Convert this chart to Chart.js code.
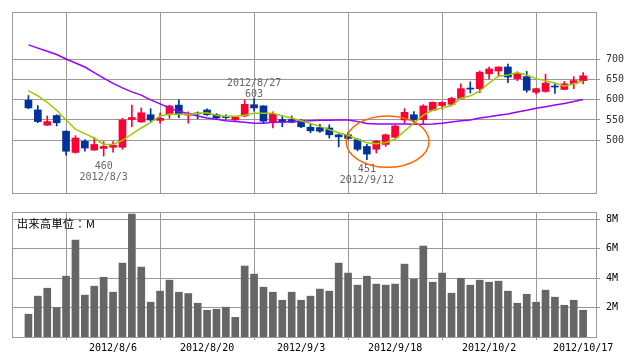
<!DOCTYPE html>
<html lang="ja">
<head>
<meta charset="utf-8">
<title>株価チャート</title>
<script src="https://cdn.jsdelivr.net/npm/chart.js@4.4.1/dist/chart.umd.min.js"></script>
<style>
  html, body { margin: 0; padding: 0; background: #fff; }
  #wrap { position: relative; width: 638px; height: 362px; overflow: hidden; }
  #priceChart { position: absolute; left: 0; top: 0; }
  #volChart { position: absolute; left: 0; top: 200px; }
  #volLabel { position: absolute; left: 17px; top: 215px; font: 11px "Noto Sans CJK JP"; letter-spacing: 0.5px; color: #000; }
</style>
</head>
<body>
<div id="wrap">
  <canvas id="priceChart" width="638" height="205"></canvas>
  <canvas id="volChart" width="638" height="162"></canvas>
  <div id="volLabel">出来高単位：M</div>
</div>
<script>
// 日付 (営業日)
const dates = [
  '2012/7/24','2012/7/25','2012/7/26','2012/7/27','2012/7/30','2012/7/31',
  '2012/8/1','2012/8/2','2012/8/3','2012/8/6','2012/8/7','2012/8/8','2012/8/9','2012/8/10',
  '2012/8/13','2012/8/14','2012/8/15','2012/8/16','2012/8/17','2012/8/20','2012/8/21',
  '2012/8/22','2012/8/23','2012/8/24','2012/8/27','2012/8/28','2012/8/29','2012/8/30','2012/8/31',
  '2012/9/3','2012/9/4','2012/9/5','2012/9/6','2012/9/7','2012/9/10','2012/9/11','2012/9/12',
  '2012/9/13','2012/9/14','2012/9/18','2012/9/19','2012/9/20','2012/9/21','2012/9/24','2012/9/25',
  '2012/9/26','2012/9/27','2012/9/28','2012/10/1','2012/10/2','2012/10/3','2012/10/4','2012/10/5',
  '2012/10/9','2012/10/10','2012/10/11','2012/10/12','2012/10/15','2012/10/16','2012/10/17'
];

const opens = [
  599, 575, 537, 561, 522, 469, 497, 475, 479, 482,
  482, 551, 545, 563, 549, 563, 587, 562, 566, 575,
  563, 558, 550, 560, 588, 585, 544, 551, 551, 549,
  532, 531, 530, 513, 513, 501, 484, 477, 489, 507,
  550, 563, 551, 574, 586, 589, 604, 628, 628, 665,
  672, 682, 653, 658, 619, 621, 633, 626, 640, 648
];
const highs = [
  611, 586, 560, 563, 523, 511, 501, 507, 496, 496,
  554, 587, 580, 578, 567, 587, 600, 570, 570, 578,
  566, 563, 557, 600, 603, 586, 570, 561, 560, 551,
  541, 539, 538, 515, 519, 504, 489, 499, 515, 537,
  578, 571, 588, 595, 595, 607, 640, 645, 672, 682,
  682, 689, 670, 671, 629, 664, 642, 646, 658, 668
];
const lows = [
  578, 543, 536, 535, 462, 467, 472, 474, 460, 470,
  477, 533, 544, 545, 542, 554, 556, 542, 553, 561,
  552, 552, 547, 558, 572, 541, 530, 533, 543, 531,
  518, 519, 505, 483, 502, 473, 451, 468, 484, 505,
  542, 542, 539, 573, 577, 588, 602, 617, 618, 652,
  658, 643, 648, 619, 614, 619, 616, 625, 628, 640
];
const closes = [
  580, 546, 546, 543, 472, 505, 480, 489, 484, 487,
  550, 556, 568, 550, 554, 585, 563, 566, 565, 563,
  555, 556, 557, 589, 580, 547, 564, 544, 544, 533,
  523, 522, 513, 508, 504, 477, 465, 497, 513, 535,
  569, 551, 585, 594, 594, 604, 628, 627, 669, 677,
  682, 657, 666, 624, 628, 642, 632, 640, 648, 660
];
// 移動平均 (チャートから読み取り)
const ma5 = [
  623, 610, 594, 574, 550, 527, 516, 505, 489, 489,
  499, 515, 530, 544, 560, 564, 564, 564, 566, 568,
  562, 559, 559, 562, 567, 567, 567, 560, 555, 548,
  541, 534, 526, 518, 512, 502, 493, 491, 494, 502,
  522, 542, 562, 574, 580, 586, 604, 610, 622, 642,
  659, 662, 668, 662, 653, 648, 642, 634, 640, 647
];
const ma25 = [
  737, 729, 721, 713, 702, 692, 682, 668, 654, 641,
  630, 620, 612, 600, 590, 580, 571, 566, 560, 555,
  552, 548, 546, 544, 542, 542, 544, 545, 546, 547,
  548, 549, 549, 550, 550, 546, 541, 540, 540, 540,
  540, 539, 539, 540, 542, 545, 548, 550, 555, 558,
  562, 565, 570, 574, 579, 583, 587, 591, 596, 601
];
// 出来高 (単位: M)
const volumes = [
  1.55, 2.78, 3.32, 2.00, 4.14, 6.60, 2.85, 3.46, 4.07, 3.05,
  5.03, 8.37, 4.76, 2.37, 3.12, 3.87, 3.05, 2.96, 2.30, 1.82,
  1.89, 2.03, 1.34, 4.83, 4.28, 3.39, 3.05, 2.50, 3.05, 2.50,
  2.78, 3.26, 3.12, 5.03, 4.35, 3.53, 4.14, 3.60, 3.53, 3.60,
  4.96, 3.94, 6.19, 3.73, 4.35, 2.98, 4.00, 3.53, 3.87, 3.73,
  3.80, 3.12, 2.30, 2.91, 2.37, 3.19, 2.71, 2.16, 2.50, 1.82
];

const priceTicks = [500, 550, 600, 650, 700];
const volumeTicks = [2, 4, 6, 8];
const dateTickIdx = [9, 19, 29, 39, 49, 59];
const highMarks = [24];      // 高値表示
const lowMarks = [8, 36];    // 安値表示
const circleCenter = { x: 38.2, y: 496 };
const circleRadius = { x: 4.4, y: 64 };

const UP = '#ff0033';
const DOWN = '#003399';
const GRID = '#999999';
const X_MIN = -1.75;
const X_MAX = 60.37;
const MONO = '"DejaVu Sans Mono", monospace';

const idx = dates.map((d, i) => i);
const candleColors = idx.map(i => closes[i] >= opens[i] ? UP : DOWN);

// 枠線
const framePlugin = {
  id: 'frame',
  beforeDatasetsDraw(chart) {
    const a = chart.chartArea;
    const ctx = chart.ctx;
    ctx.save();
    ctx.strokeStyle = GRID;
    ctx.lineWidth = 1;
    ctx.strokeRect(Math.round(a.left) + 0.5, Math.round(a.top) + 0.5,
      Math.round(a.right - a.left), Math.round(a.bottom - a.top));
    ctx.restore();
  }
};

// 高値・安値ラベルと丸印
const markPlugin = {
  id: 'marks',
  afterDatasetsDraw(chart) {
    const { ctx, scales: { x, y } } = chart;
    ctx.save();
    ctx.font = '10px ' + MONO;
    ctx.fillStyle = '#666';
    ctx.textAlign = 'center';
    highMarks.forEach(i => {
      const px = x.getPixelForValue(i);
      const py = y.getPixelForValue(highs[i]);
      ctx.textBaseline = 'bottom';
      ctx.fillText(String(highs[i]), px, py + 1);
      ctx.fillText(dates[i], px, py - 10);
    });
    lowMarks.forEach(i => {
      const px = x.getPixelForValue(i);
      const py = y.getPixelForValue(lows[i]);
      ctx.textBaseline = 'top';
      ctx.fillText(String(lows[i]), px, py + 5);
      ctx.fillText(dates[i], px, py + 16);
    });
    const cx = x.getPixelForValue(circleCenter.x);
    const cy = y.getPixelForValue(circleCenter.y);
    const rx = x.getPixelForValue(circleCenter.x + circleRadius.x) - cx;
    const ry = cy - y.getPixelForValue(circleCenter.y + circleRadius.y);
    ctx.beginPath();
    ctx.ellipse(cx, cy, rx, ry, 0, 0, Math.PI * 2);
    ctx.strokeStyle = '#ff6600';
    ctx.lineWidth = 1.5;
    ctx.stroke();
    ctx.restore();
  }
};

function initPriceChart() {
  const ctx = document.getElementById('priceChart');
  new Chart(ctx, {
    type: 'bar',
    data: {
      datasets: [
        {
          type: 'line',
          data: idx.map(i => ({ x: i, y: ma5[i] })),
          borderColor: '#99cc00',
          borderWidth: 1.5,
          pointRadius: 0,
          order: 0
        },
        {
          type: 'line',
          data: idx.map(i => ({ x: i, y: ma25[i] })),
          borderColor: '#9900ff',
          borderWidth: 1.5,
          pointRadius: 0,
          order: 0
        },
        {
          data: idx.map(i => ({ x: i, y: [opens[i], closes[i]] })),
          backgroundColor: candleColors,
          barThickness: 7,
          minBarLength: 1,
          grouped: false,
          order: 1
        },
        {
          data: idx.map(i => ({ x: i, y: [lows[i], highs[i]] })),
          backgroundColor: candleColors,
          barThickness: 1,
          grouped: false,
          order: 2
        }
      ]
    },
    options: {
      responsive: false,
      animation: false,
      layout: { padding: { left: 12, top: 10, right: 0, bottom: 8 } },
      plugins: { legend: { display: false }, tooltip: { enabled: false } },
      scales: {
        x: {
          type: 'linear',
          min: X_MIN,
          max: X_MAX,
          offset: false,
          afterBuildTicks: s => { s.ticks = dateTickIdx.map(v => ({ value: v })); },
          afterFit: s => { s.height = 0; },
          ticks: { display: false },
          grid: { color: GRID, drawTicks: false },
          border: { display: false }
        },
        y: {
          position: 'right',
          min: 368,
          max: 819,
          afterBuildTicks: s => { s.ticks = priceTicks.map(v => ({ value: v })); },
          afterFit: s => { s.width = 42; },
          ticks: { color: '#333', font: { family: MONO, size: 10 }, padding: 6 },
          grid: { color: GRID, tickLength: 4 },
          border: { display: false }
        }
      }
    },
    plugins: [framePlugin, markPlugin]
  });
}

function initVolumeChart() {
  const ctx = document.getElementById('volChart');
  new Chart(ctx, {
    type: 'bar',
    data: {
      datasets: [{
        data: idx.map(i => ({ x: i, y: volumes[i] })),
        backgroundColor: '#666666',
        barThickness: 7
      }]
    },
    options: {
      responsive: false,
      animation: false,
      layout: { padding: { left: 12, top: 12, right: 0, bottom: 0 } },
      plugins: { legend: { display: false }, tooltip: { enabled: false } },
      scales: {
        x: {
          type: 'linear',
          min: X_MIN,
          max: X_MAX,
          offset: false,
          afterBuildTicks: s => { s.ticks = dateTickIdx.map(v => ({ value: v })); },
          afterFit: s => { s.height = 25; },
          ticks: {
            autoSkip: false,
            maxRotation: 0,
            padding: 2,
            color: '#000',
            font: { family: MONO, size: 10 },
            callback: v => dates[v]
          },
          grid: { color: GRID, tickLength: 3 },
          border: { display: false }
        },
        y: {
          position: 'right',
          min: 0,
          max: 8.51,
          afterBuildTicks: s => { s.ticks = volumeTicks.map(v => ({ value: v })); },
          afterFit: s => { s.width = 42; },
          ticks: { color: '#000', font: { family: MONO, size: 10 }, padding: 6, callback: v => v + 'M' },
          grid: { color: GRID, tickLength: 4 },
          border: { display: false }
        }
      }
    },
    plugins: [framePlugin]
  });
}

document.addEventListener('DOMContentLoaded', function () {
  initPriceChart();
  initVolumeChart();
});
</script>
</body>
</html>
